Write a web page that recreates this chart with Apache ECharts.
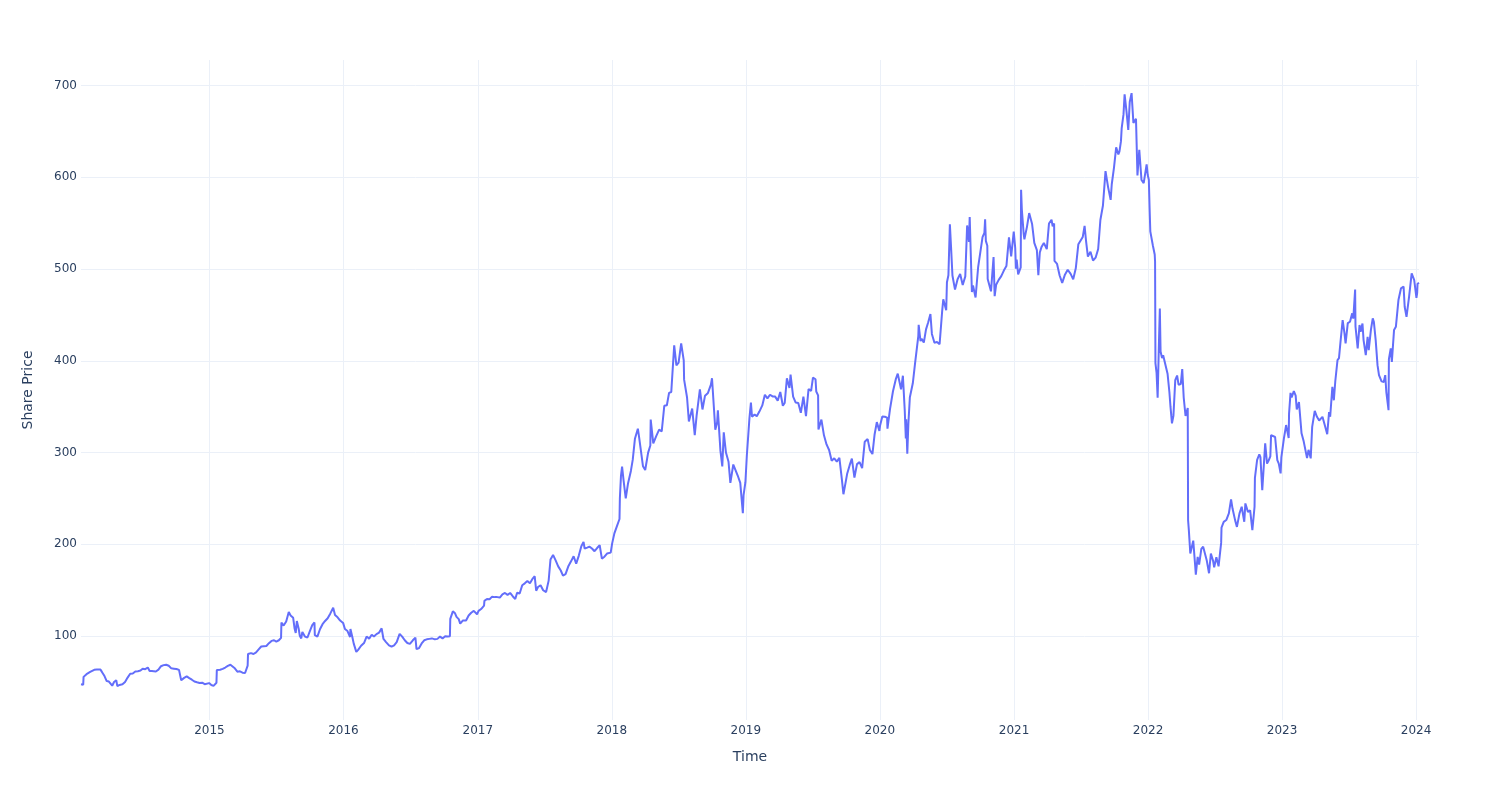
<!DOCTYPE html>
<html>
<head>
<meta charset="utf-8">
<script src="https://cdn.jsdelivr.net/npm/echarts@6/dist/echarts.min.js"></script>
<style>
html,body{margin:0;padding:0;background:#fff;}
#chart{width:1500px;height:800px;}
</style>
</head>
<body>
<div id="chart"></div>
<script>
// Share price readings: [month-day, price] per year
const y2014 = [['01-16',47.6],['01-22',47.1],['01-23',55.6],['01-28',56.8],['01-31',58.5],['02-05',58.0],['02-10',61.0],['02-14',62.5],['02-21',63.3],['02-28',63.7],['03-05',64.9],['03-10',63.5],['03-14',61.0],['03-21',56.5],['03-27',51.0],['04-02',50.5],['04-07',48.4],['04-11',46.0],['04-16',50.0],['04-22',52.0],['04-25',45.5],['05-01',46.8],['05-09',47.5],['05-16',50.0],['05-23',54.8],['05-30',59.0],['06-06',59.3],['06-13',61.5],['06-20',61.8],['06-27',62.5],['07-03',64.5],['07-10',64.0],['07-17',65.8],['07-22',62.0],['07-28',61.9],['08-01',59.9],['08-08',61.5],['08-15',63.5],['08-22',67.2],['08-29',68.4],['09-05',68.8],['09-12',67.7],['09-19',64.9],['09-26',64.5],['10-03',64.1],['10-10',63.2],['10-15',64.0],['10-16',51.8],['10-24',54.5],['10-31',56.2],['11-07',54.3],['11-14',52.5],['11-21',50.5],['11-28',49.7],['12-05',49.0],['12-12',49.3],['12-19',47.6],['12-31',48.8]];
const y2015 = [['01-06',46.7],['01-12',45.8],['01-16',47.0],['01-20',49.2],['01-21',63.1],['01-30',63.3],['02-06',64.3],['02-13',65.8],['02-20',67.6],['02-27',68.8],['03-04',69.5],['03-11',64.9],['03-18',61.3],['03-25',61.6],['04-01',60.2],['04-08',59.8],['04-13',61.5],['04-15',67.9],['04-16',80.5],['04-24',81.5],['05-01',80.5],['05-08',82.3],['05-15',85.5],['05-22',88.7],['05-29',89.0],['06-05',89.3],['06-12',92.3],['06-19',94.8],['06-26',95.5],['07-02',94.0],['07-09',95.5],['07-15',98.1],['07-16',114.8],['07-22',111.5],['07-29',116.0],['08-05',126.3],['08-10',122.5],['08-17',120.0],['08-21',108.0],['08-24',103.5],['08-27',116.5],['09-01',108.0],['09-04',100.5],['09-08',97.5],['09-11',104.5],['09-18',99.5],['09-25',98.5],['10-02',106.0],['10-08',112.0],['10-14',114.9],['10-15',101.1],['10-22',99.5],['10-29',107.5],['11-05',113.0],['11-12',116.5],['11-19',119.5],['11-26',124.5],['12-04',130.9],['12-09',123.0],['12-16',120.5],['12-23',117.0],['12-31',114.4]];
const y2016 = [['01-05',107.7],['01-12',105.5],['01-19',99.0],['01-20',107.7],['01-25',99.4],['01-29',91.8],['02-05',82.8],['02-10',85.0],['02-18',89.5],['02-26',92.5],['03-04',99.5],['03-11',97.3],['03-18',101.5],['03-24',99.5],['03-31',102.2],['04-07',103.8],['04-14',108.5],['04-18',109.7],['04-19',96.9],['04-26',93.5],['05-04',90.0],['05-11',88.5],['05-18',90.0],['05-25',93.5],['06-02',102.5],['06-09',99.5],['06-16',95.5],['06-23',92.5],['06-30',91.5],['07-08',95.5],['07-15',98.4],['07-18',85.8],['07-25',87.0],['08-01',92.0],['08-08',95.5],['08-15',96.5],['08-22',97.0],['08-29',97.5],['09-06',96.5],['09-13',97.0],['09-20',99.5],['09-27',97.5],['10-04',99.8],['10-11',99.5],['10-17',99.8],['10-18',118.8],['10-25',127.0],['10-31',124.9],['11-04',121.0],['11-10',118.5],['11-14',113.6],['11-21',117.0],['11-30',117.0],['12-07',122.5],['12-14',125.5],['12-21',127.5],['12-30',123.8]];
const y2017 = [['01-03',127.5],['01-10',129.5],['01-18',133.3],['01-19',138.4],['01-26',140.5],['02-02',140.2],['02-09',143.0],['02-16',142.5],['02-23',142.5],['03-02',142.0],['03-09',145.5],['03-16',147.0],['03-23',145.0],['03-30',147.0],['04-06',143.5],['04-13',140.5],['04-18',147.3],['04-25',146.5],['05-02',155.5],['05-09',157.5],['05-16',160.0],['05-23',157.5],['05-31',163.0],['06-05',165.2],['06-09',149.5],['06-14',153.5],['06-21',155.5],['06-28',150.0],['07-06',148.0],['07-13',160.5],['07-17',161.7],['07-18',183.6],['07-25',188.5],['08-01',182.5],['08-08',176.0],['08-15',171.5],['08-21',166.0],['08-28',167.5],['09-05',176.5],['09-12',181.5],['09-19',187.0],['09-26',179.0],['10-03',187.5],['10-10',198.0],['10-16',202.7],['10-19',195.5],['10-26',196.5],['11-01',197.5],['11-08',195.5],['11-15',192.5],['11-22',196.0],['11-29',199.0],['12-05',184.5],['12-12',186.5],['12-19',190.0],['12-29',191.0]];
const y2018 = [['01-02',201.1],['01-08',212.0],['01-16',221.0],['01-22',227.6],['01-23',250.3],['01-26',274.6],['01-29',284.6],['02-02',270.0],['02-08',250.1],['02-14',266.0],['02-22',280.0],['02-27',292.0],['03-05',315.0],['03-13',326.0],['03-16',318.0],['03-22',300.0],['03-27',285.0],['04-02',281.0],['04-10',300.0],['04-16',307.8],['04-17',336.0],['04-24',310.0],['05-02',318.0],['05-10',325.0],['05-17',323.0],['05-24',351.0],['05-31',351.6],['06-06',365.0],['06-12',366.0],['06-20',416.8],['06-26',395.0],['07-02',398.0],['07-09',419.0],['07-16',400.5],['07-17',379.5],['07-25',360.0],['07-30',334.0],['08-08',348.0],['08-15',319.0],['08-20',340.0],['08-29',369.0],['09-05',347.0],['09-12',362.0],['09-20',365.0],['09-28',374.0],['10-01',381.0],['10-10',325.0],['10-15',333.0],['10-17',346.0],['10-24',301.8],['10-29',285.0],['11-02',322.0],['11-08',300.0],['11-15',290.0],['11-20',267.0],['11-28',287.0],['12-03',288.0],['12-10',275.0],['12-17',267.0],['12-24',233.9],['12-26',253.7],['12-31',267.7]];
const y2019 = [['01-04',297.6],['01-08',320.3],['01-11',337.6],['01-15',354.6],['01-18',339.1],['01-25',341.5],['01-31',339.5],['02-07',344.7],['02-15',351.4],['02-22',363.0],['03-01',359.0],['03-08',363.0],['03-15',361.2],['03-22',361.0],['03-29',356.6],['04-05',366.0],['04-12',351.0],['04-17',354.0],['04-23',381.0],['04-30',370.5],['05-03',385.0],['05-10',361.0],['05-17',354.5],['05-24',354.0],['05-31',343.3],['06-07',360.9],['06-14',339.7],['06-21',369.2],['06-28',367.3],['07-03',381.7],['07-10',379.9],['07-12',366.6],['07-17',362.4],['07-18',325.2],['07-26',335.9],['08-02',318.8],['08-09',308.9],['08-16',302.8],['08-23',291.0],['08-30',293.8],['09-06',290.2],['09-13',294.2],['09-20',270.0],['09-24',254.6],['09-30',267.6],['10-04',276.6],['10-11',286.3],['10-16',286.3],['10-17',293.4],['10-24',272.8],['10-31',287.4],['11-07',289.6],['11-14',283.1],['11-21',311.7],['11-29',314.7],['12-05',302.9],['12-12',298.4],['12-18',320.0],['12-24',333.2],['12-31',323.6]];
const y2020 = [['01-02',329.8],['01-08',339.3],['01-15',339.1],['01-21',338.1],['01-22',326.0],['01-29',347.7],['02-06',366.8],['02-14',380.4],['02-19',386.0],['02-28',369.0],['03-04',383.8],['03-09',346.5],['03-12',315.3],['03-13',336.3],['03-16',298.8],['03-19',332.0],['03-23',360.3],['03-31',375.5],['04-06',396.7],['04-15',426.8],['04-16',439.2],['04-21',421.4],['04-24',424.0],['04-30',419.9],['05-06',434.3],['05-12',442.0],['05-18',451.0],['05-22',429.3],['05-29',419.7],['06-05',420.6],['06-12',418.1],['06-19',454.2],['06-22',467.0],['06-30',455.0],['07-02',485.6],['07-06',493.2],['07-10',548.7],['07-13',525.5],['07-16',527.4],['07-17',493.0],['07-24',477.6],['07-31',488.9],['08-07',494.7],['08-14',482.7],['08-21',492.0],['08-26',547.5],['08-31',529.6],['09-02',556.6],['09-08',475.0],['09-11',482.0],['09-18',469.0],['09-25',502.0],['09-30',500.0],['10-07',534.7],['10-12',539.4],['10-14',554.1],['10-16',530.7],['10-20',525.4],['10-21',489.1],['10-30',475.7],['11-06',513.0],['11-09',470.5],['11-13',482.8],['11-20',488.2],['11-27',492.3],['12-04',498.3],['12-11',503.2],['12-18',534.5],['12-24',513.9],['12-31',540.7]];
const y2021 = [['01-04',522.9],['01-06',500.5],['01-08',510.4],['01-12',494.3],['01-19',501.8],['01-20',586.3],['01-22',565.2],['01-27',538.6],['01-29',532.4],['02-05',546.0],['02-11',561.0],['02-19',549.0],['02-25',528.5],['03-04',520.7],['03-08',493.3],['03-12',518.0],['03-17',524.4],['03-23',528.5],['03-31',521.7],['04-06',549.6],['04-13',553.7],['04-16',546.5],['04-20',549.6],['04-21',508.9],['04-28',505.6],['05-05',493.0],['05-12',485.0],['05-19',493.4],['05-27',499.2],['06-04',494.7],['06-11',488.8],['06-18',500.8],['06-25',527.1],['06-30',528.2],['07-07',535.0],['07-12',547.0],['07-16',530.3],['07-20',531.1],['07-21',513.6],['07-28',518.9],['08-04',509.3],['08-11',512.4],['08-18',521.9],['08-24',553.4],['08-31',569.2],['09-07',606.7],['09-14',589.3],['09-21',575.4],['09-24',592.4],['09-30',610.3],['10-06',632.7],['10-12',624.9],['10-15',628.3],['10-19',639.1],['10-21',653.2],['10-26',668.5],['10-29',690.3],['11-03',672.4],['11-08',651.5],['11-12',682.0],['11-17',691.7],['11-22',659.2],['11-29',663.8],['12-03',602.1],['12-08',630.0],['12-14',597.0],['12-20',593.7],['12-28',614.1],['12-31',602.4]];
const y2022 = [['01-03',597.4],['01-05',567.5],['01-07',541.1],['01-12',540.7],['01-14',525.7],['01-19',515.9],['01-20',508.3],['01-21',397.5],['01-24',387.2],['01-27',359.7],['01-31',427.1],['02-02',457.1],['02-04',410.2],['02-08',403.0],['02-11',406.0],['02-16',408.0],['02-23',386.0],['02-28',366.0],['03-03',350.0],['03-07',331.8],['03-11',340.0],['03-16',379.0],['03-21',384.0],['03-25',374.0],['03-31',374.6],['04-04',391.0],['04-08',360.0],['04-13',340.0],['04-19',348.6],['04-20',226.2],['04-22',215.5],['04-26',190.0],['04-29',190.4],['05-04',204.0],['05-09',178.0],['05-11',167.0],['05-16',186.4],['05-20',178.0],['05-26',195.0],['05-31',197.4],['06-03',198.5],['06-10',182.0],['06-16',168.5],['06-21',190.0],['06-27',182.0],['06-30',175.0],['07-06',186.0],['07-12',176.0],['07-19',201.6],['07-20',218.3],['07-26',224.5],['08-02',226.5],['08-09',233.7],['08-15',249.0],['08-19',239.0],['08-26',226.4],['08-31',219.0],['09-07',233.7],['09-13',241.0],['09-20',224.6],['09-23',244.6],['09-30',235.4],['10-06',237.0],['10-12',215.5],['10-18',241.0],['10-19',272.4],['10-25',292.0],['10-31',298.0],['11-03',295.0],['11-08',259.0],['11-11',257.0],['11-16',310.0],['11-21',288.0],['11-25',291.0],['11-30',296.0],['12-02',319.0],['12-07',321.0],['12-13',317.0],['12-19',291.8],['12-23',288.0],['12-28',277.3],['12-30',294.9]];
const y2023 = [['01-03',294.9],['01-06',315.5],['01-12',330.0],['01-19',315.8],['01-20',342.5],['01-24',365.0],['01-27',360.0],['02-02',366.9],['02-07',362.0],['02-10',347.0],['02-16',355.0],['02-23',321.0],['03-01',312.0],['03-06',313.0],['03-10',294.0],['03-14',303.0],['03-20',293.7],['03-24',328.0],['03-31',345.5],['04-06',339.0],['04-12',335.0],['04-21',339.0],['04-28',329.0],['05-04',320.0],['05-09',344.0],['05-12',339.0],['05-18',371.7],['05-22',357.0],['05-26',378.0],['06-01',400.8],['06-05',403.0],['06-09',420.0],['06-15',444.4],['06-20',430.0],['06-23',419.0],['06-29',441.0],['07-05',442.6],['07-11',451.7],['07-14',446.0],['07-19',477.6],['07-20',437.4],['07-26',413.6],['07-31',439.0],['08-03',431.6],['08-08',440.7],['08-11',422.6],['08-17',406.2],['08-22',426.0],['08-25',411.6],['08-31',433.7],['09-05',446.2],['09-08',442.6],['09-13',422.6],['09-18',395.3],['09-22',384.4],['09-29',377.6],['10-05',377.0],['10-09',384.4],['10-12',366.0],['10-18',346.2],['10-19',401.8],['10-24',413.6],['10-27',398.9],['11-02',433.5],['11-07',437.0],['11-14',466.2],['11-21',479.0],['11-28',481.0],['12-01',458.9],['12-06',448.0],['12-13',470.0],['12-20',495.4],['12-27',488.0],['12-29',486.9]];
const y2024 = [['01-02',468.5],['01-04',474.0],['01-05',484.0],['01-09',485.0]];

const yearData = {2014:y2014,2015:y2015,2016:y2016,2017:y2017,2018:y2018,2019:y2019,2020:y2020,2021:y2021,2022:y2022,2023:y2023,2024:y2024};
const series = [];
Object.keys(yearData).forEach(function (yr) {
  yearData[yr].forEach(function (p) { series.push([yr + '-' + p[0], p[1]]); });
});

const textColor = '#2a3f5f';
const gridColor = '#ebf0f8';
const fontFamily = 'DejaVu Sans';

const chart = echarts.init(document.getElementById('chart'), null, {renderer: 'canvas'});
chart.setOption({
  animation: false,
  backgroundColor: '#ffffff',
  grid: {left: 81, right: 81, top: 60, bottom: 80, containLabel: false},
  xAxis: {
    type: 'time',
    min: series[0][0],
    max: series[series.length - 1][0],
    splitNumber: 10,
    axisLine: {show: false},
    axisTick: {show: false},
    splitLine: {show: true, showMinLine: false, showMaxLine: false, lineStyle: {color: gridColor, width: 1}},
    axisLabel: {formatter: '{yyyy}', color: textColor, fontSize: 12, fontFamily: fontFamily, margin: 5},
    name: 'Time',
    nameLocation: 'middle',
    nameGap: 30,
    nameTextStyle: {color: textColor, fontSize: 14, fontFamily: fontFamily}
  },
  yAxis: {
    type: 'value',
    min: 8.6,
    max: 727.8,
    splitNumber: 7,
    axisLine: {show: false},
    axisTick: {show: false},
    splitLine: {show: true, showMinLine: false, showMaxLine: false, lineStyle: {color: gridColor, width: 1}},
    axisLabel: {color: textColor, fontSize: 12, fontFamily: fontFamily, margin: 4, showMinLabel: false, showMaxLabel: false},
    name: 'Share Price',
    nameLocation: 'middle',
    nameGap: 46,
    nameTextStyle: {color: textColor, fontSize: 14, fontFamily: fontFamily}
  },
  series: [{
    type: 'line',
    data: series,
    showSymbol: false,
    lineStyle: {color: '#636efa', width: 2},
    itemStyle: {color: '#636efa'}
  }]
});
</script>
</body>
</html>
